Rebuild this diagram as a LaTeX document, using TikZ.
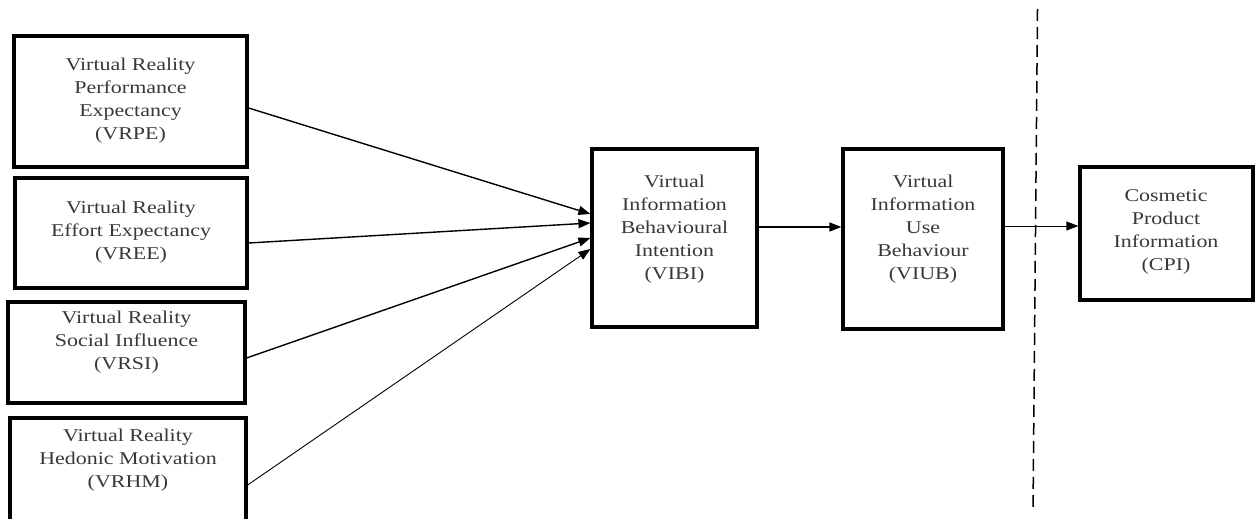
\documentclass[tikz,border=0pt]{standalone}
\usepackage{fontspec}
\newfontfamily\dfont[FakeStretch=1.22]{Liberation Serif}
\usetikzlibrary{arrows.meta,calc}
\begin{document}
\begin{tikzpicture}[x=1pt,y=-1pt,
  box/.style={draw,line width=3.2pt,inner sep=0pt},
  lbl/.style={font=\dfont\fontsize{18}{23}\selectfont,align=center,text=black!78,inner sep=0pt},
  conn/.style={-{Triangle[length=12pt,width=9pt]},line width=1.4pt},
  thinconn/.style={-{Triangle[length=12pt,width=9pt]},line width=0.9pt}]
\useasboundingbox (0,0) rectangle (1255,519);
% boxes
\node[box,minimum width=233pt,minimum height=131pt] (vrpe) at (130.5,101.5) {};
\node[box,minimum width=232pt,minimum height=110pt] (vree) at (131,233) {};
\node[box,minimum width=237pt,minimum height=101pt] (vrsi) at (126.5,352.5) {};
\node[box,minimum width=236pt,minimum height=112pt] (vrhm) at (128,474) {};
\node[box,minimum width=165pt,minimum height=178pt] (vibi) at (674.5,238) {};
\node[box,minimum width=160pt,minimum height=180pt] (viub) at (923,239) {};
\node[box,minimum width=173pt,minimum height=133pt] (cpi) at (1166.5,233.5) {};
% labels
\node[lbl] (tvrpe) at (130.5,101) {Virtual Reality\\Performance\\Expectancy\\(VRPE)};
\node[lbl] (tvree) at (131,232) {Virtual Reality\\Effort Expectancy\\(VREE)};
\node[lbl] (tvrsi) at (126.5,342) {Virtual Reality\\Social Influence\\(VRSI)};
\node[lbl] (tvrhm) at (128,460) {Virtual Reality\\Hedonic Motivation\\(VRHM)};
\node[lbl] (tvibi) at (674.5,229) {Virtual\\Information\\Behavioural\\Intention\\(VIBI)};
\node[lbl] (tviub) at (923,229) {Virtual\\Information\\Use\\Behaviour\\(VIUB)};
\node[lbl] (tcpi) at (1166,232) {Cosmetic\\Product\\Information\\(CPI)};
% dashed divider
\coordinate (dtop) at (1037.5,9);
\coordinate (dbot) at (1033,510);
\draw[line width=1.5pt,dash pattern=on 12pt off 6pt] (dtop) -- (dbot);
% connectors
\draw[conn] ($(vrpe.east)+(0,6.5)$) -- ($(vibi.west)+(0,-24)$);
\draw[conn] ($(vree.east)+(0,10)$) -- ($(vibi.west)+(0,-15)$);
\draw[conn] ($(vrsi.east)+(0,5.5)$) -- ($(vibi.west)+(0,0)$);
\draw[thinconn] ($(vrhm.east)+(0,11)$) -- ($(vibi.west)+(0,11)$);
\draw[conn] ($(vibi.east)+(0,-11)$) -- ($(viub.west)+(0,-12)$);
\draw[thinconn] ($(viub.east)+(0,-13)$) -- ($(cpi.west)+(0,-7.5)$);
\end{tikzpicture}
\end{document}
